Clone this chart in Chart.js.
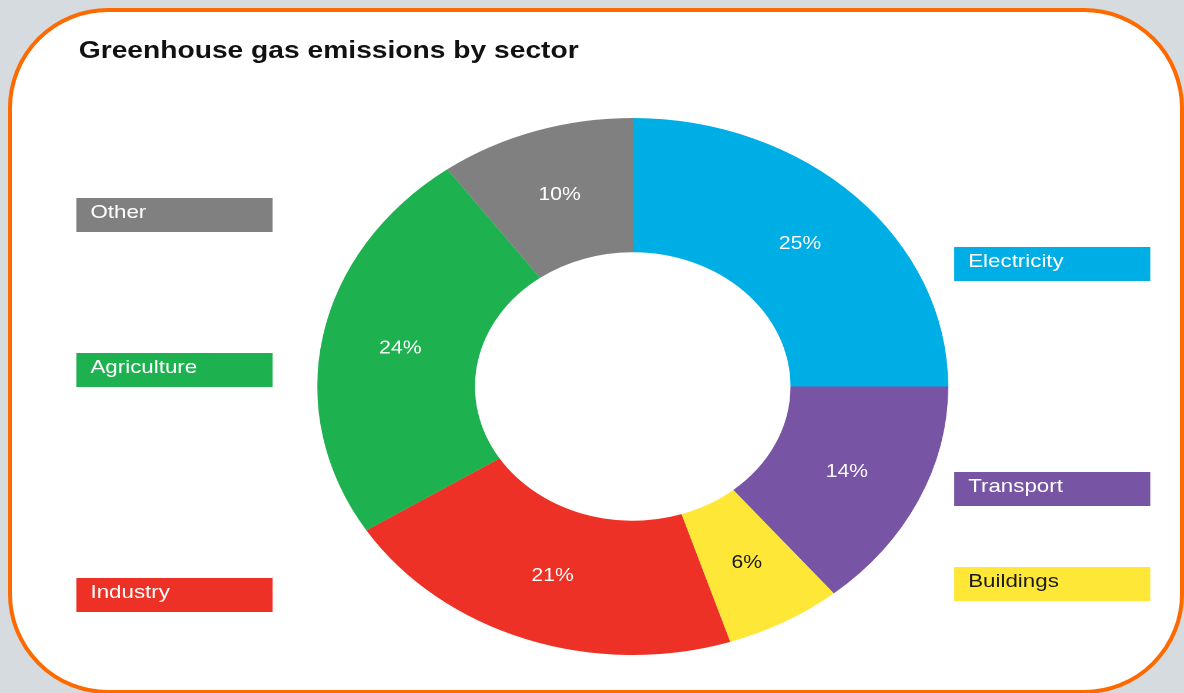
<!DOCTYPE html>
<html>
<head>
<meta charset="utf-8">
<script src="https://cdn.jsdelivr.net/npm/chart.js@4"></script>
<style>
  html, body { margin: 0; padding: 0; }
  body { width: 1184px; height: 693px; background: #d5dbde; overflow: hidden; position: relative; font-family: "Liberation Sans", Arial, sans-serif; }
  .card { position: absolute; left: 8px; top: 8px; width: 1168px; height: 678px; background: #fff; border: 4px solid #ff6a00; border-radius: 100px; }
  /* everything inside is laid out narrow, then stretched sideways */
  .stage { position: absolute; left: 0; top: 0; width: 1008px; height: 693px; transform: scaleX(1.175); transform-origin: 0 0; }
  .title { position: absolute; left: 67px; top: 36px; font-size: 24px; font-weight: bold; color: #111; white-space: nowrap; }
  .key { position: absolute; width: 167px; height: 34px; box-sizing: border-box; padding: 3.5px 0 0 12px; font-size: 19px; line-height: 19px; color: #fff; white-space: nowrap; }
  #wrap { position: absolute; left: 270px; top: 118px; width: 537px; height: 537px; }
</style>
</head>
<body>
<div class="card"></div>
<div class="stage">
  <div class="title">Greenhouse gas emissions by sector</div>
  <div id="keys"></div>
  <div id="wrap"><canvas id="canvas"></canvas></div>
</div>
<script>
const sectors = ['Electricity', 'Transport', 'Buildings', 'Industry', 'Agriculture', 'Other'];
const shares = [25, 14, 6, 21, 24, 10];
const colors = ['#00aee6', '#7854a4', '#ffe738', '#ee3126', '#1db24f', '#808080'];
const labelColors = ['#fff', '#fff', '#1a1a1a', '#fff', '#fff', '#fff'];

// legend boxes: left column and right column
const keyPlaces = {
  Electricity: [812, 247],
  Transport: [812, 472],
  Buildings: [812, 567],
  Industry: [65, 578],
  Agriculture: [65, 353],
  Other: [65, 198]
};

const keys = document.getElementById('keys');
sectors.forEach((name, i) => {
  const d = document.createElement('div');
  d.className = 'key';
  d.textContent = name;
  d.style.left = keyPlaces[name][0] + 'px';
  d.style.top = keyPlaces[name][1] + 'px';
  d.style.background = colors[i];
  d.style.color = labelColors[i];
  keys.appendChild(d);
});

// write the share on each slice
const sliceLabels = {
  id: 'sliceLabels',
  afterDatasetsDraw(chart) {
    const c = chart.ctx;
    const meta = chart.getDatasetMeta(0);
    c.save();
    c.font = '18px "Liberation Sans", Arial, sans-serif';
    c.textAlign = 'center';
    c.textBaseline = 'middle';
    meta.data.forEach((arc, i) => {
      const p = arc.getCenterPoint();
      c.fillStyle = labelColors[i];
      c.fillText(shares[i] + '%', p.x, p.y);
    });
    c.restore();
  }
};

let ctx = document.getElementById('canvas').getContext('2d');

function init() {
  let chart = new Chart(ctx, {
    type: 'doughnut',
    data: {
      labels: sectors,
      datasets: [{
        data: shares,
        backgroundColor: colors,
        borderWidth: 0
      }]
    },
    options: {
      responsive: true,
      maintainAspectRatio: false,
      animation: false,
      devicePixelRatio: 2,
      cutout: '50%',
      layout: { padding: 0 },
      plugins: {
        legend: { display: false },
        tooltip: { enabled: false }
      }
    },
    plugins: [sliceLabels]
  });
}

init();
</script>
</body>
</html>
